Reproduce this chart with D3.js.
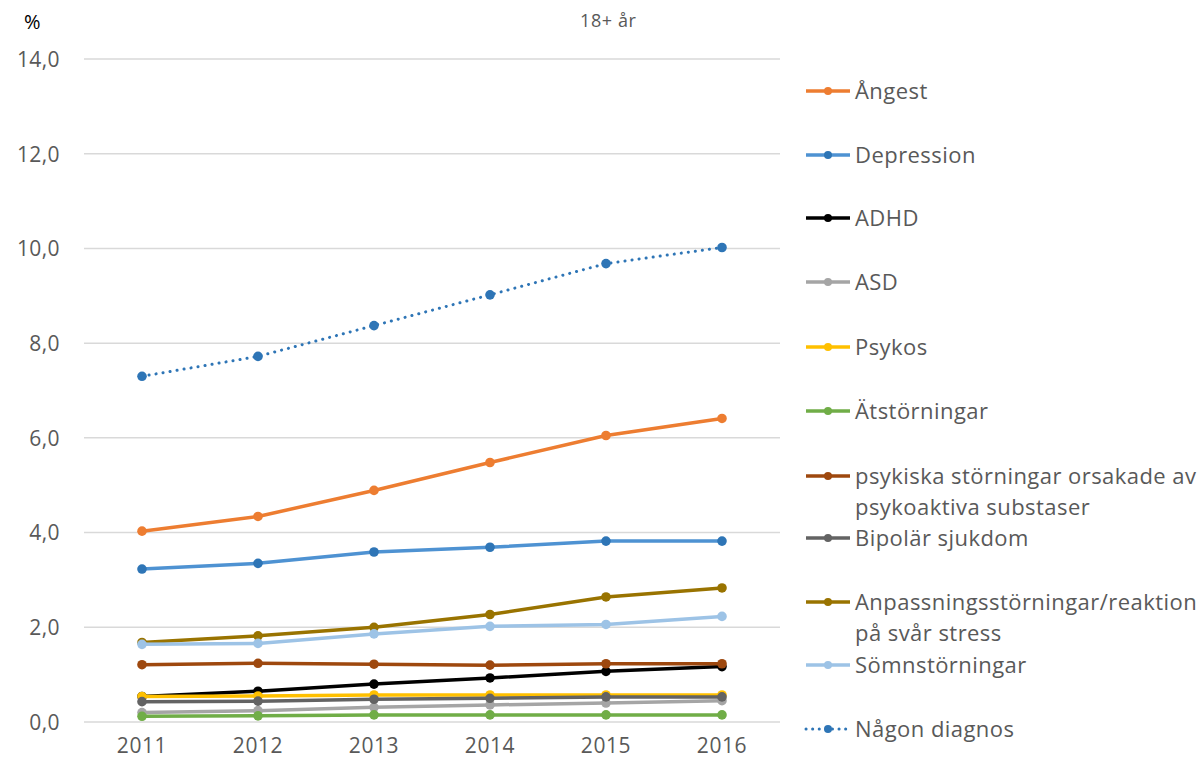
<!DOCTYPE html>
<html>
<head>
<meta charset="utf-8">
<script src="https://cdn.jsdelivr.net/npm/d3@7"></script>
<style>
  html, body { margin: 0; padding: 0; background: #fff; }
  svg { display: block; font-family: "Open Sans", "Noto Sans", sans-serif; }
</style>
</head>
<body>
<svg id="chart" width="1202" height="770"></svg>
<script>
// Years on the x axis
const years = ["2011", "2012", "2013", "2014", "2015", "2016"];

// Share of the population (%) with each diagnosis, age 18+
const angest        = [4.03, 4.34, 4.89, 5.48, 6.05, 6.41];
const depression    = [3.23, 3.35, 3.59, 3.69, 3.82, 3.82];
const adhd          = [0.54, 0.65, 0.80, 0.93, 1.07, 1.17];
const asd           = [0.20, 0.24, 0.31, 0.36, 0.40, 0.45];
const psykos        = [0.54, 0.55, 0.57, 0.57, 0.57, 0.57];
const atstorningar  = [0.12, 0.13, 0.15, 0.15, 0.15, 0.15];
const substans      = [1.21, 1.24, 1.22, 1.20, 1.23, 1.23];
const bipolar       = [0.43, 0.44, 0.48, 0.50, 0.53, 0.53];
const anpassning    = [1.68, 1.82, 2.00, 2.27, 2.64, 2.83];
const somn          = [1.64, 1.66, 1.86, 2.02, 2.06, 2.23];
const nagonDiagnos  = [7.30, 7.72, 8.37, 9.02, 9.68, 10.02];

// Y axis ticks
const yTicks = [0, 2, 4, 6, 8, 10, 12, 14];

const series = [
  { name: ["Ångest"], values: angest, color: "#ED7D31" },
  { name: ["Depression"], values: depression, color: "#4E92D2", marker: "#2E75B6" },
  { name: ["ADHD"], values: adhd, color: "#000000" },
  { name: ["ASD"], values: asd, color: "#A5A5A5" },
  { name: ["Psykos"], values: psykos, color: "#FFC000" },
  { name: ["Ätstörningar"], values: atstorningar, color: "#70AD47" },
  { name: ["psykiska störningar orsakade av", "psykoaktiva substaser"], values: substans, color: "#9E480E" },
  { name: ["Bipolär sjukdom"], values: bipolar, color: "#636363" },
  { name: ["Anpassningsstörningar/reaktion", "på svår stress"], values: anpassning, color: "#997300" },
  { name: ["Sömnstörningar"], values: somn, color: "#9DC3E6" },
  { name: ["Någon diagnos"], values: nagonDiagnos, color: "#2E75B6", dotted: true }
];

const svg = d3.select("#chart");
const plot = { left: 84, right: 780, top: 59, bottom: 722 };

const x = d3.scaleBand().domain(years).range([plot.left, plot.right]);
const y = d3.scaleLinear().domain([0, 14]).range([plot.bottom, plot.top]);
const cx = d => x(d) + x.bandwidth() / 2;

// Gridlines
svg.append("g")
  .selectAll("line")
  .data(yTicks)
  .join("line")
  .attr("x1", plot.left).attr("x2", plot.right)
  .attr("y1", d => y(d)).attr("y2", d => y(d))
  .attr("stroke", "#D9D9D9").attr("stroke-width", 1.5);

// Y axis labels
const fmt = d => d.toFixed(1).replace(".", ",");
const yAxis = svg.append("g")
  .attr("transform", `translate(${plot.left - 24},0)`)
  .call(d3.axisLeft(y).tickValues(yTicks).tickFormat(fmt).tickSize(0));
yAxis.select(".domain").remove();
yAxis.selectAll("text")
  .attr("fill", "#595959").attr("font-size", 21)
  .attr("font-family", "Open Sans, sans-serif")
  .attr("letter-spacing", 0.4)
  .attr("dy", "0.35em").attr("x", 0);

// X axis labels
const xAxis = svg.append("g")
  .attr("transform", `translate(0,${plot.bottom + 13})`)
  .call(d3.axisBottom(x).tickSize(0));
xAxis.select(".domain").remove();
xAxis.selectAll("text")
  .attr("fill", "#595959").attr("font-size", 21)
  .attr("font-family", "Open Sans, sans-serif")
  .attr("letter-spacing", 0.6)
  .attr("dy", "0.71em");

// Unit and title
svg.append("text").attr("x", 24).attr("y", 29)
  .attr("font-size", 20).attr("fill", "#000").text("%");
svg.append("text").attr("x", 580).attr("y", 27)
  .attr("font-size", 18).attr("letter-spacing", 0.6)
  .attr("fill", "#595959").text("18+ år");

// Lines and markers
const line = d3.line()
  .x((d, i) => cx(years[i]))
  .y(d => y(d));

series.forEach(s => {
  const g = svg.append("g");
  g.append("path")
    .datum(s.values)
    .attr("d", line)
    .attr("fill", "none")
    .attr("stroke", s.color)
    .attr("stroke-width", s.dotted ? 3 : 3.5)
    .attr("stroke-linejoin", "round")
    .attr("stroke-linecap", s.dotted ? "round" : "butt")
    .attr("stroke-dasharray", s.dotted ? "0.1 7" : null);
  g.selectAll("circle")
    .data(s.values)
    .join("circle")
    .attr("cx", (d, i) => cx(years[i]))
    .attr("cy", d => y(d))
    .attr("r", 4.8)
    .attr("fill", s.marker || s.color);
});

// Legend
const legendY = [91, 155, 218, 282, 347, 411, 476, 538, 602, 665, 729];
const legend = svg.append("g");
series.forEach((s, i) => {
  const g = legend.append("g").attr("transform", `translate(0,${legendY[i]})`);
  g.append("line")
    .attr("x1", 806).attr("x2", 850).attr("y1", 0).attr("y2", 0)
    .attr("stroke", s.color)
    .attr("stroke-width", s.dotted ? 3 : 3.5)
    .attr("stroke-linecap", s.dotted ? "round" : "butt")
    .attr("stroke-dasharray", s.dotted ? "0.1 6.5" : null);
  g.append("circle").attr("cx", 828).attr("cy", 0).attr("r", 4)
    .attr("fill", s.marker || s.color);
  s.name.forEach((t, j) => {
    g.append("text")
      .attr("x", 855).attr("y", j * 31)
      .attr("dy", "0.35em")
      .attr("font-size", 22)
      .attr("letter-spacing", 0.45)
      .attr("fill", "#595959")
      .text(t);
  });
});
</script>
</body>
</html>
